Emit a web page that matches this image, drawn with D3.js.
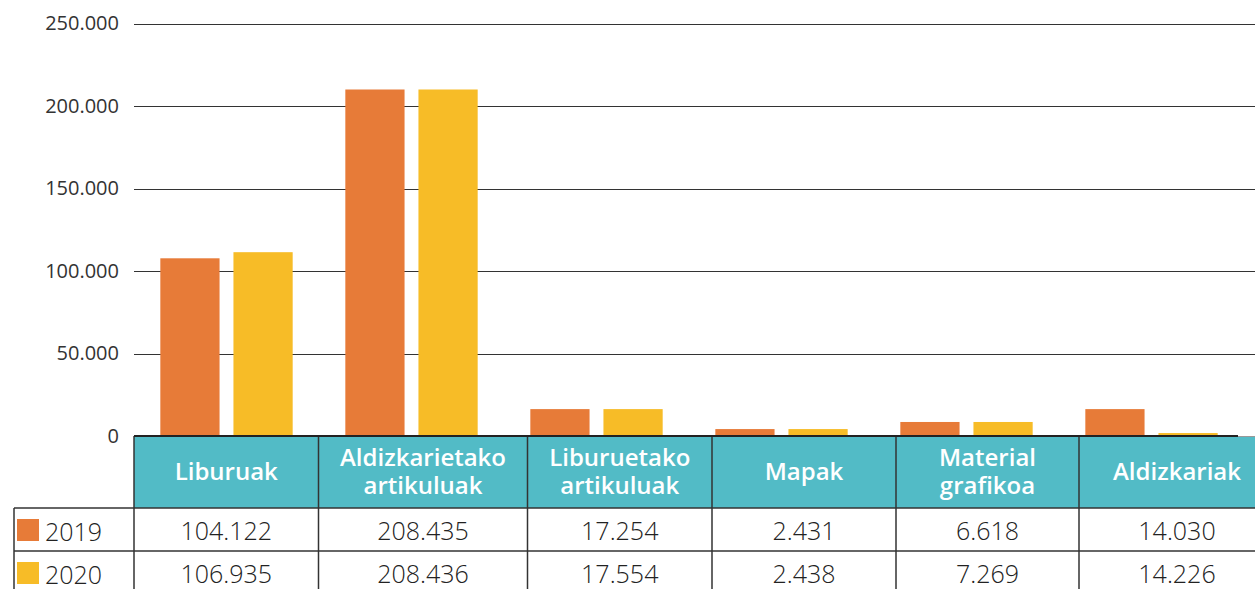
<!DOCTYPE html>
<html><head><meta charset="utf-8">
<script src="https://cdn.jsdelivr.net/npm/d3@7"></script>
<style>html,body{margin:0;padding:0;background:#fff;overflow:hidden}</style>
</head><body>
<svg id="c" width="1255" height="589"></svg>
<script>
// ---- data ----
const categories = ["Liburuak", "Aldizkarietako\nartikuluak", "Liburuetako\nartikuluak", "Mapak", "Material\ngrafikoa", "Aldizkariak"];
const years = ["2019", "2020"];
// bar heights as drawn in the picture
const bars2019 = [107700, 210000, 16300, 4200, 8500, 16300];
const bars2020 = [111400, 210000, 16300, 4200, 8500, 1800];
// table values as printed
const table2019 = ["104.122", "208.435", "17.254", "2.431", "6.618", "14.030"];
const table2020 = ["106.935", "208.436", "17.554", "2.438", "7.269", "14.226"];
const yTicks = [0, 50000, 100000, 150000, 200000, 250000];
const colors = ["#E77B38", "#F7BC27"];

// ---- layout ----
const svg = d3.select("#c");
const x0 = 134, x1 = 1244;
const yTop = 23.5, yBase = 436;
const colEdges = [134, 318.5, 527.5, 712, 896, 1079, 1275];
const headerBottom = 508, row1Bottom = 551;
const font = "'Open Sans', 'Noto Sans', sans-serif";

const x = d3.scaleBand().domain(d3.range(categories.length)).range([x0, x1]);
const xs = d3.scaleBand().domain(years).range([0, x.bandwidth()]).paddingInner(0.19).paddingOuter(0.36);
const y = d3.scaleLinear().domain([0, 250000]).range([yBase, yTop]);
const loc = d3.formatLocale({decimal: ",", thousands: ".", grouping: [3], currency: ["", "€"]});
const fmt = loc.format(",d");

// axis labels + gridlines
const axis = d3.axisLeft(y).tickValues(yTicks).tickFormat(fmt).tickSize(0).tickPadding(15);
const gAxis = svg.append("g").attr("transform", `translate(${x0},0)`).call(axis);
gAxis.select(".domain").remove();
gAxis.selectAll("text").attr("font-family", font).attr("font-size", 20).attr("fill", "#333");
svg.append("g").selectAll("line").data(yTicks.filter(d => d > 0)).join("line")
  .attr("x1", x0).attr("x2", 1255).attr("y1", d => Math.round(y(d)) + 0.5).attr("y2", d => Math.round(y(d)) + 0.5)
  .attr("stroke", "#333").attr("stroke-width", 1);

// bars
const series = [bars2019, bars2020];
const gb = svg.append("g");
categories.forEach((c, i) => {
  years.forEach((yr, j) => {
    const v = series[j][i];
    gb.append("rect")
      .attr("x", x(i) + xs(yr)).attr("width", xs.bandwidth())
      .attr("y", y(v)).attr("height", yBase - y(v))
      .attr("fill", colors[j]);
  });
});

// table header
const gt = svg.append("g");
gt.append("rect").attr("x", colEdges[0]).attr("y", yBase).attr("width", 1255 - colEdges[0]).attr("height", headerBottom - yBase).attr("fill", "#52BBC6");
categories.forEach((c, i) => {
  const cx = (colEdges[i] + colEdges[i + 1]) / 2;
  const lines = c.split("\n");
  const lh = 28;
  const startY = (yBase + headerBottom) / 2 - (lines.length - 1) * lh / 2 + 8;
  lines.forEach((l, k) => gt.append("text").attr("text-anchor", "middle").attr("font-family", font)
    .attr("font-weight", 600).attr("font-size", 24).attr("fill", "#fff")
    .attr("x", cx).attr("y", startY + k * lh).text(l));
});

// table body
const rows = [table2019, table2020];
const rowTops = [headerBottom, row1Bottom];
rows.forEach((r, ri) => {
  const cyBase = rowTops[ri] + 32;
  r.forEach((v, i) => {
    const cx = (colEdges[i] + colEdges[i + 1]) / 2;
    gt.append("text").attr("x", cx).attr("y", cyBase).attr("text-anchor", "middle")
      .attr("font-family", font).attr("font-weight", 300).attr("font-size", 25).attr("fill", "#222").text(v);
  });
  gt.append("rect").attr("x", 17).attr("y", rowTops[ri] + 11).attr("width", 22).attr("height", 22).attr("fill", colors[ri]);
  gt.append("text").attr("x", 45).attr("y", cyBase + 1).attr("font-family", font).attr("font-weight", 300)
    .attr("font-size", 25).attr("fill", "#222").text(years[ri]);
});

// table lines
const lc = "#333";
colEdges.slice(0, 6).forEach(e => {
  gt.append("line").attr("x1", e).attr("x2", e).attr("y1", yBase).attr("y2", 589).attr("stroke", lc).attr("stroke-width", 1.5);
});
gt.append("line").attr("x1", 14).attr("x2", 14).attr("y1", headerBottom).attr("y2", 589).attr("stroke", lc).attr("stroke-width", 1.5);
[headerBottom, row1Bottom].forEach(yy => {
  gt.append("line").attr("x1", 14).attr("x2", 1255).attr("y1", yy).attr("y2", yy).attr("stroke", lc).attr("stroke-width", 1.5);
});
// baseline
gt.append("line").attr("x1", x0).attr("x2", 1238).attr("y1", yBase).attr("y2", yBase).attr("stroke", "#222").attr("stroke-width", 2);
gt.append("line").attr("x1", 1238).attr("x2", 1255).attr("y1", yBase + 0.5).attr("y2", yBase + 0.5).attr("stroke", "#999").attr("stroke-width", 1);
</script>
</body></html>
